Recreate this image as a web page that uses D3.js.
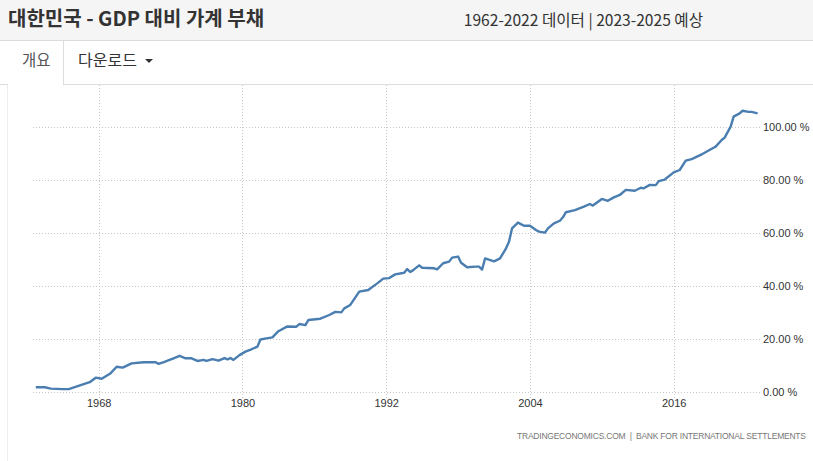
<!DOCTYPE html>
<html><head><meta charset="utf-8">
<script src="https://cdn.jsdelivr.net/npm/d3@7"></script>
<style>
body{margin:0;background:#fff;font-family:"Noto Sans CJK KR","Noto Sans",sans-serif;}
svg{display:block}
</style></head><body>
<svg id="c" width="813" height="461"></svg>
<script>
const titleText = "대한민국 - GDP 대비 가계 부채";
const rangeText = "1962-2022 데이터 | 2023-2025 예상";
const tabLabels = ["개요", "다운로드"];
const sourceText = "TRADINGECONOMICS.COM  |  BANK FOR INTERNATIONAL SETTLEMENTS";
const xTicks = [1968, 1980, 1992, 2004, 2016];
const yTicks = [0, 20, 40, 60, 80, 100];
const years = [1962.75,1963.5,1964.0,1965.0,1965.5,1966.5,1967.25,1967.75,1968.25,1969.0,1969.5,1970.0,1970.75,1971.75,1972.75,1973.0,1973.5,1973.75,1974.25,1974.75,1975.25,1975.75,1976.25,1976.75,1977.0,1977.5,1978.0,1978.5,1978.75,1979.0,1979.25,1979.75,1980.25,1980.75,1981.25,1981.5,1982.0,1982.5,1983.0,1983.75,1984.5,1984.75,1985.25,1985.5,1986.5,1987.25,1987.75,1988.25,1988.5,1989.0,1989.75,1990.5,1991.25,1991.75,1992.25,1992.75,1993.5,1993.75,1994.0,1994.25,1994.75,1995.0,1996.0,1996.25,1996.75,1997.25,1997.5,1998.0,1998.25,1998.75,1999.5,1999.75,2000.0,2000.25,2000.75,2001.0,2001.5,2002.0,2002.25,2002.5,2003.0,2003.5,2004.0,2004.5,2004.75,2005.25,2005.5,2006.0,2006.5,2006.75,2007.0,2007.75,2008.5,2009.0,2009.25,2010.0,2010.5,2011.0,2011.5,2012.0,2012.75,2013.25,2013.5,2014.0,2014.5,2014.75,2015.25,2016.0,2016.5,2017.0,2017.5,2018.25,2018.5,2019.25,2019.5,2020.0,2020.25,2020.75,2021.0,2021.5,2021.75,2022.25,2022.5,2023.0];
const debtPct = [1.9,1.9,1.4,1.2,1.2,2.7,3.8,5.5,5.1,7.2,9.6,9.3,10.9,11.3,11.3,10.7,11.5,11.9,12.8,13.7,12.8,12.8,11.8,12.2,11.8,12.5,11.9,12.9,12.4,12.9,12.2,14.0,15.3,16.2,17.2,19.9,20.3,20.7,23.0,24.8,24.7,25.7,25.3,27.2,27.7,29.1,30.3,30.1,31.6,32.9,37.9,38.5,41.0,42.8,43.0,44.4,45.0,46.4,45.3,46.0,47.8,46.9,46.7,46.3,48.6,49.2,50.7,51.1,48.8,47.1,47.3,47.3,46.2,50.4,49.7,49.3,50.4,54.2,56.7,61.7,63.9,62.7,62.7,61.1,60.5,60.1,61.7,63.6,64.6,65.9,67.8,68.6,69.9,70.9,70.3,72.8,72.1,73.4,74.3,76.2,75.9,77.0,76.8,78.1,78.0,79.5,80.1,82.8,83.7,87.2,87.8,89.4,90.0,91.9,92.5,95.0,95.9,100.0,103.8,105.0,106.0,105.6,105.6,105.0];

const svg = d3.select("#c");
// header
svg.append("rect").attr("x",0).attr("y",0).attr("width",813).attr("height",40).attr("fill","#f5f5f5");
svg.append("line").attr("x1",0).attr("x2",813).attr("y1",40.5).attr("y2",40.5).attr("stroke","#dcdcdc");
svg.append("text").attr("x",8).attr("y",26).attr("font-size",20).attr("font-weight","bold").attr("fill","#333").text(titleText);
svg.append("text").attr("x",703).attr("y",26).attr("text-anchor","end").attr("font-size",15.6).attr("fill","#333").text(rangeText);
// tabs
svg.append("line").attr("x1",0).attr("x2",8).attr("y1",84.5).attr("y2",84.5).attr("stroke","#ddd");
svg.append("line").attr("x1",63).attr("x2",813).attr("y1",84.5).attr("y2",84.5).attr("stroke","#ddd");
svg.append("line").attr("x1",63.5).attr("x2",63.5).attr("y1",41).attr("y2",85).attr("stroke","#ddd");
svg.append("line").attr("x1",7.5).attr("x2",7.5).attr("y1",85).attr("y2",461).attr("stroke","#eee");
svg.append("text").attr("x",22).attr("y",66).attr("font-size",15.5).attr("fill","#555").text(tabLabels[0]);
svg.append("text").attr("x",78).attr("y",66).attr("font-size",16).attr("fill","#333").text(tabLabels[1]);
svg.append("path").attr("d","M145,59h8l-4,4z").attr("fill","#333");

const x = d3.scaleLinear().domain([1968, 2016]).range([98.7, 98.7 + 48*11.98]);
const y = d3.scaleLinear().domain([0, 100]).range([392.3, 126.7]);

const g = svg.append("g");
// vertical grid
g.selectAll(".vg").data(xTicks).join("line")
  .attr("x1",d=>Math.round(x(d))+0.5).attr("x2",d=>Math.round(x(d))+0.5)
  .attr("y1",85).attr("y2",398).attr("stroke","#c8c8c8").attr("stroke-dasharray","1,2");
// horizontal grid
g.selectAll(".hg").data(yTicks).join("line")
  .attr("x1",33).attr("x2",760).attr("y1",d=>Math.round(y(d))+0.5).attr("y2",d=>Math.round(y(d))+0.5)
  .attr("stroke","#c8c8c8").attr("stroke-dasharray","1,2");

// axes via d3
const yAxis = d3.axisRight(y).tickValues(yTicks).tickSize(0).tickPadding(0).tickFormat(d=>d3.format(".2f")(d)+" %");
const ya = svg.append("g").attr("transform","translate(763,0)").call(yAxis);
ya.select(".domain").remove();
ya.selectAll("text").attr("fill","#333").attr("font-family","'Liberation Sans',Arial,sans-serif").attr("font-size",11);

const xAxis = d3.axisBottom(x).tickValues(xTicks).tickSize(0).tickPadding(0).tickFormat(d3.format("d"));
const xa = svg.append("g").attr("transform","translate(0,399)").call(xAxis);
xa.select(".domain").remove();
xa.selectAll("text").attr("font-size",11).attr("fill","#333").attr("font-family","'Liberation Sans',Arial,sans-serif");

// line
const data = years.map((yr,i)=>({yr, v: debtPct[i]}));
svg.append("path").datum(data)
  .attr("fill","none").attr("stroke","#4a7db0").attr("stroke-width",2.4).attr("stroke-linejoin","round")
  .attr("d", d3.line().x(d=>x(d.yr)).y(d=>y(d.v)));

svg.append("text").attr("x",517).attr("y",439)
  .attr("font-size",8.5).attr("fill","#777").attr("font-family","'Liberation Sans',Arial,sans-serif")
  .attr("textLength",289).attr("lengthAdjust","spacing")
  .text(sourceText.replace(/ /g, "\u00a0"));
</script>
</body></html>
